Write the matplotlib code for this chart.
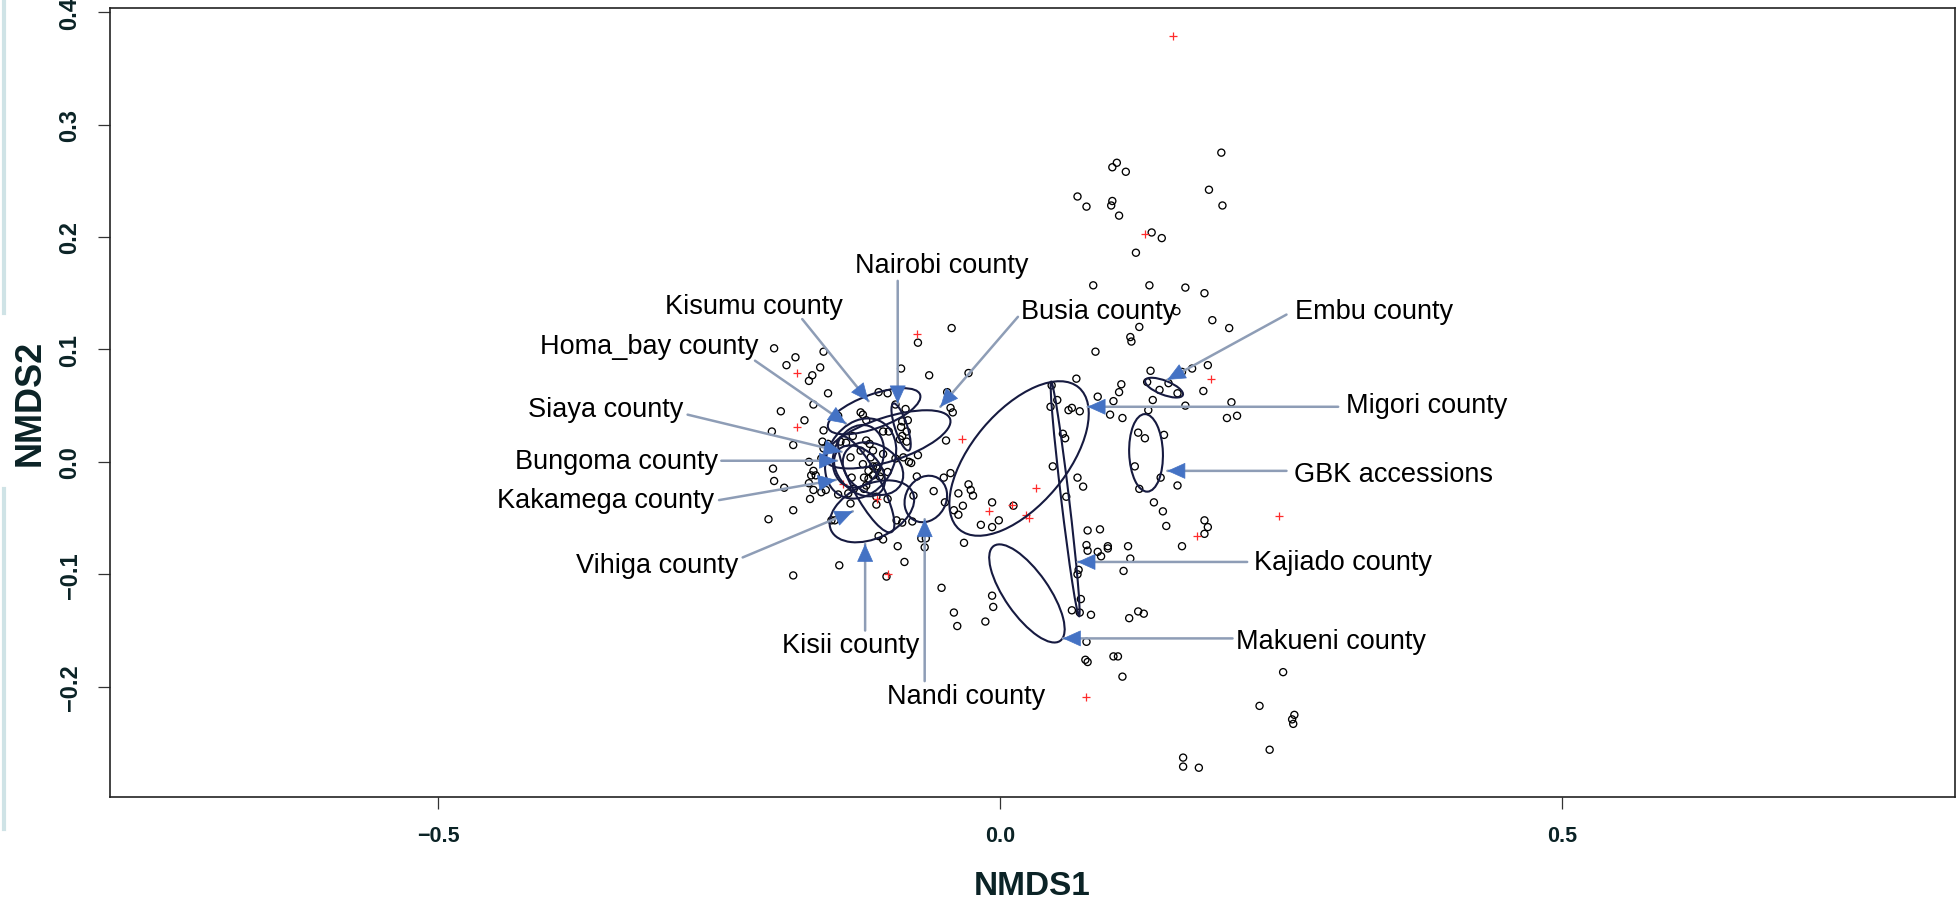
import numpy as np
import matplotlib
matplotlib.use("Agg")
import matplotlib.pyplot as plt
from matplotlib.patches import Ellipse
from matplotlib.lines import Line2D

# NMDS scores: accessions (circles)
nmds1 = [
    0.197, 0.100, 0.104, 0.112, 0.069, 0.077, 0.100, 0.099, 0.106, 0.186,
    0.198, 0.135, 0.144, 0.121, 0.083, 0.133, 0.165, 0.182, 0.189, 0.204,
    0.157, 0.124, 0.116, 0.117, -0.043, -0.073, -0.088, -0.063, -0.028, 0.085,
    0.068, 0.108, 0.134, 0.131, 0.171, 0.185, 0.162, 0.046, 0.181, 0.206,
    0.165, 0.202, 0.211, 0.106, 0.150, 0.142, 0.158, 0.136, 0.132, 0.087,
    0.101, 0.098, 0.109, 0.051, 0.045, 0.061, 0.064, 0.071, 0.123, 0.129,
    0.146, 0.056, 0.058, 0.047, 0.120, 0.143, 0.069, 0.074, 0.124, 0.158,
    0.059, 0.137, 0.145, 0.148, 0.182, 0.185, 0.182, 0.078, 0.089, 0.077,
    0.096, 0.096, 0.114, 0.078, 0.087, 0.090, 0.162, 0.116, 0.070, 0.069,
    0.110, 0.072, 0.064, 0.071, 0.081, 0.115, 0.123, 0.128, 0.077, 0.101,
    0.105, 0.109, 0.252, 0.231, 0.260, 0.262, 0.261, 0.240, 0.163, 0.163,
    0.177, 0.076, 0.078,
    -0.032, -0.052, -0.041, -0.038, -0.007, -0.006, -0.013, -0.041, -0.037, -0.033,
    -0.037, -0.028, -0.026, -0.024, -0.017, -0.007, -0.001, -0.007, 0.012, -0.049,
    -0.050, -0.044, -0.059, -0.077, -0.074, -0.092, -0.087, -0.078, -0.070, -0.066,
    -0.067, -0.091, -0.108, -0.104, -0.085, -0.101, -0.143, -0.184, -0.110, -0.133,
    -0.150, -0.147, -0.184, -0.206, -0.047, -0.044, -0.042, -0.108, -0.100,
    -0.201, -0.190, -0.182, -0.157, -0.160, -0.167, -0.170, -0.153, -0.166, -0.195,
    -0.174, -0.203, -0.184, -0.170, -0.202, -0.201, -0.166, -0.164, -0.168, -0.170,
    -0.192, -0.166, -0.155, -0.169,
    -0.144, -0.093, -0.084, -0.124, -0.122, -0.119, -0.087, -0.082, -0.088, -0.083,
    -0.104, -0.099, -0.131, -0.157, -0.048, -0.089, -0.083, -0.119, -0.116, -0.142,
    -0.137, -0.153, -0.150, -0.124, -0.113, -0.104, -0.115, -0.133, -0.159, -0.093,
    -0.086, -0.081, -0.122, -0.113, -0.110, -0.109, -0.117, -0.106, -0.100, -0.117,
    -0.121, -0.107, -0.132, -0.121, -0.130, -0.159, -0.144, -0.110, -0.100, -0.158,
    -0.157, -0.079, -0.073, -0.135, -0.119, -0.087, -0.113,
]
nmds2 = [
    0.275, 0.262, 0.266, 0.258, 0.236, 0.227, 0.232, 0.228, 0.219, 0.242,
    0.228, 0.204, 0.199, 0.186, 0.157, 0.157, 0.155, 0.150, 0.126, 0.119,
    0.134, 0.120, 0.111, 0.107, 0.119, 0.106, 0.083, 0.077, 0.079, 0.098,
    0.074, 0.069, 0.081, 0.071, 0.083, 0.086, 0.080, 0.068, 0.063, 0.053,
    0.050, 0.039, 0.041, 0.062, 0.070, 0.064, 0.061, 0.055, 0.046, 0.058,
    0.054, 0.042, 0.039, 0.055, 0.049, 0.046, 0.048, 0.045, 0.026, 0.021,
    0.024, 0.025, 0.021, -0.004, -0.004, -0.014, -0.014, -0.022, -0.024, -0.021,
    -0.031, -0.036, -0.044, -0.057, -0.052, -0.058, -0.064, -0.061, -0.060, -0.074,
    -0.075, -0.077, -0.075, -0.079, -0.080, -0.084, -0.075, -0.086, -0.096, -0.100,
    -0.097, -0.122, -0.132, -0.134, -0.136, -0.139, -0.133, -0.135, -0.160, -0.173,
    -0.173, -0.191, -0.187, -0.217, -0.229, -0.225, -0.233, -0.256, -0.263, -0.271,
    -0.272, -0.176, -0.178,
    -0.072, -0.112, -0.134, -0.146, -0.119, -0.129, -0.142, -0.043, -0.047, -0.039,
    -0.028, -0.020, -0.025, -0.030, -0.056, -0.058, -0.052, -0.036, -0.039, -0.036,
    -0.014, -0.010, -0.026, -0.030, -0.013, -0.052, -0.054, -0.053, -0.068, -0.068,
    -0.076, -0.075, -0.066, -0.069, -0.089, -0.102, -0.092, -0.101, -0.038, -0.037,
    -0.052, -0.052, -0.043, -0.051, 0.062, 0.048, 0.044, 0.062, 0.061,
    0.101, 0.086, 0.093, 0.098, 0.084, 0.077, 0.072, 0.061, 0.051, 0.045,
    0.037, 0.027, 0.015, 0.000, -0.006, -0.017, -0.008, -0.012, -0.012, -0.019,
    -0.023, -0.025, -0.025, -0.033,
    0.041, 0.051, 0.047, 0.044, 0.042, 0.037, 0.036, 0.037, 0.031, 0.027,
    0.027, 0.027, 0.023, 0.028, 0.019, 0.020, 0.018, 0.019, 0.016, 0.018,
    0.017, 0.016, 0.012, 0.010, 0.010, 0.007, 0.004, 0.004, 0.003, 0.003,
    0.004, 0.000, -0.002, -0.004, -0.004, -0.006, -0.008, -0.009, -0.009, -0.015,
    -0.014, -0.013, -0.014, -0.024, -0.024, -0.027, -0.029, -0.031, -0.033, 0.018,
    0.012, -0.001, 0.006, -0.028, -0.021, 0.023, -0.012,
]

# species / environment points (red crosses)
plus_x = [0.154, 0.129, 0.188, 0.175, 0.248, 0.077, -0.074, -0.181, -0.181,
          -0.034, -0.140, -0.109, -0.100, -0.010, 0.011, 0.023, 0.026, 0.032]
plus_y = [0.379, 0.203, 0.074, -0.066, -0.048, -0.209, 0.114, 0.079, 0.031,
          0.020, -0.020, -0.033, -0.100, -0.044, -0.038, -0.047, -0.050, -0.023]

# group ellipses: centre x, centre y, width, height, angle
ell_x = [0.017, 0.058, 0.024, -0.066, 0.130, 0.146, -0.088, -0.112, -0.100,
         -0.124, -0.126, -0.113, -0.125, -0.119, -0.114]
ell_y = [0.003, -0.033, -0.117, -0.033, 0.008, 0.066, 0.031, 0.045, 0.020,
         0.003, 0.005, -0.006, -0.008, -0.020, -0.044]
ell_w = [0.165, 0.210, 0.103, 0.043, 0.069, 0.036, 0.044, 0.087, 0.117,
         0.075, 0.057, 0.057, 0.053, 0.096, 0.080]
ell_h = [0.084, 0.007, 0.039, 0.036, 0.030, 0.0125, 0.011, 0.030, 0.039,
         0.059, 0.044, 0.043, 0.036, 0.025, 0.048]
ell_ang = [50, 96.8, -55, 60, 92, -21.5, -72, 20, 18,
           60, 70, -30, -45, -62, 25]

# county labels: text position, alignment, arrow tail, arrow tip
labels = ["Nairobi county", "Kisumu county", "Homa_bay county", "Siaya county",
          "Bungoma county", "Kakamega county", "Vihiga county", "Kisii county",
          "Nandi county", "Busia county", "Embu county", "Migori county",
          "GBK accessions", "Kajiado county", "Makueni county"]
label_x = [-0.052, -0.140, -0.215, -0.282, -0.251, -0.254, -0.233, -0.133,
           -0.030, 0.019, 0.263, 0.308, 0.262, 0.226, 0.210]
label_y = [0.175, 0.139, 0.103, 0.047, 0.001, -0.034, -0.092, -0.163,
           -0.208, 0.134, 0.134, 0.051, -0.011, -0.089, -0.159]
label_ha = ["center", "right", "right", "right", "right", "right", "right",
            "center", "center", "left", "left", "left", "left", "left", "left"]
tail_x = [-0.091, -0.176, -0.218, -0.278, -0.248, -0.250, -0.229, -0.120,
          -0.067, 0.016, 0.255, 0.301, 0.255, 0.220, 0.207]
tail_y = [0.161, 0.127, 0.090, 0.042, 0.001, -0.034, -0.085, -0.150,
          -0.195, 0.129, 0.131, 0.049, -0.008, -0.089, -0.157]
tip_x = [-0.091, -0.117, -0.137, -0.141, -0.145, -0.146, -0.131, -0.120,
         -0.067, -0.053, 0.149, 0.078, 0.149, 0.069, 0.056]
tip_y = [0.052, 0.054, 0.034, 0.009, 0.001, -0.016, -0.044, -0.073,
         -0.051, 0.049, 0.073, 0.049, -0.008, -0.089, -0.157]

x_ticks = [-0.5, 0.0, 0.5]
y_ticks = [-0.2, -0.1, 0.0, 0.1, 0.2, 0.3, 0.4]

tick_font = ["Liberation Sans Narrow", "Liberation Sans", "DejaVu Sans"]
text_dark = "#0b2326"

fig = plt.figure(figsize=(19.58, 9.04), dpi=100)
ax = fig.add_axes([0.0562, 0.1173, 0.9423, 0.8732])

ax.scatter(nmds1, nmds2, s=26, facecolors="none", edgecolors="black",
           linewidths=0.95, zorder=3)
ax.scatter(plus_x, plus_y, marker="+", s=30, c="#ff2b2b", linewidths=0.9,
           zorder=3)

for cx, cy, w, h, a in zip(ell_x, ell_y, ell_w, ell_h, ell_ang):
    ax.add_patch(Ellipse((cx, cy), w, h, angle=a, fill=False,
                         edgecolor="#161a40", lw=1.5, zorder=4))

line_c = "#8e9db6"
head_c = "#4472c4"
for lab, lx, ly, ha, tx, ty, px, py in zip(labels, label_x, label_y, label_ha,
                                           tail_x, tail_y, tip_x, tip_y):
    ax.annotate("", xy=(px, py), xytext=(tx, ty),
                arrowprops=dict(arrowstyle="-", color=line_c, lw=1.8,
                                shrinkA=0, shrinkB=0), zorder=5)
    d = np.array([px - tx, py - ty])
    d = d / np.hypot(*d)
    ax.annotate("", xy=(px, py), xytext=(px - d[0] * 0.004, py - d[1] * 0.004),
                arrowprops=dict(arrowstyle="-|>,head_length=0.6,head_width=0.27",
                                mutation_scale=20, color=head_c, lw=0.5,
                                shrinkA=0, shrinkB=0), zorder=6)
    ax.text(lx, ly, lab, ha=ha, va="center", fontsize=19.5,
            family=["Liberation Sans", "DejaVu Sans"], color="black", zorder=7)

ax.set_xlim(-0.792, 0.850)
ax.set_ylim(-0.298, 0.404)
ax.set_xticks(x_ticks)
ax.set_xticklabels([f"{v:.1f}".replace("-", "\u2212") for v in x_ticks])
ax.set_yticks(y_ticks)
ax.set_yticklabels([f"{v:.1f}".replace("-", "\u2212") for v in y_ticks])

ax.tick_params(axis="both", direction="out", length=8.5, width=0.9,
               color="#333333")
ax.tick_params(axis="x", pad=12)
ax.tick_params(axis="y", pad=12)
for lbl in ax.get_xticklabels():
    lbl.set_family(tick_font)
    lbl.set_fontweight("bold")
    lbl.set_fontsize(15.5)
    lbl.set_color(text_dark)
for lbl in ax.get_yticklabels():
    lbl.set_family(tick_font)
    lbl.set_fontweight("bold")
    lbl.set_fontsize(17)
    lbl.set_color(text_dark)
    lbl.set_rotation(90)
    lbl.set_va("center")

for sp in ax.spines.values():
    sp.set_linewidth(1.2)
    sp.set_color("#222222")

ax.set_xlabel("NMDS1", fontsize=24, fontweight="bold", family=tick_font,
              color=text_dark, labelpad=17)
ax.set_ylabel("NMDS2", fontsize=26, fontweight="bold", family=tick_font,
              color=text_dark, labelpad=8)

# faint scan edge at the far left
fig.add_artist(Line2D([0.0018, 0.0018], [1.0, 1 - 314 / 904],
                      transform=fig.transFigure, color="#cfe3e6", lw=3))
fig.add_artist(Line2D([0.0018, 0.0018], [1 - 490 / 904, 1 - 830 / 904],
                      transform=fig.transFigure, color="#cfe3e6", lw=3))

fig.savefig("out.png", dpi=100)
plt.close(fig)
